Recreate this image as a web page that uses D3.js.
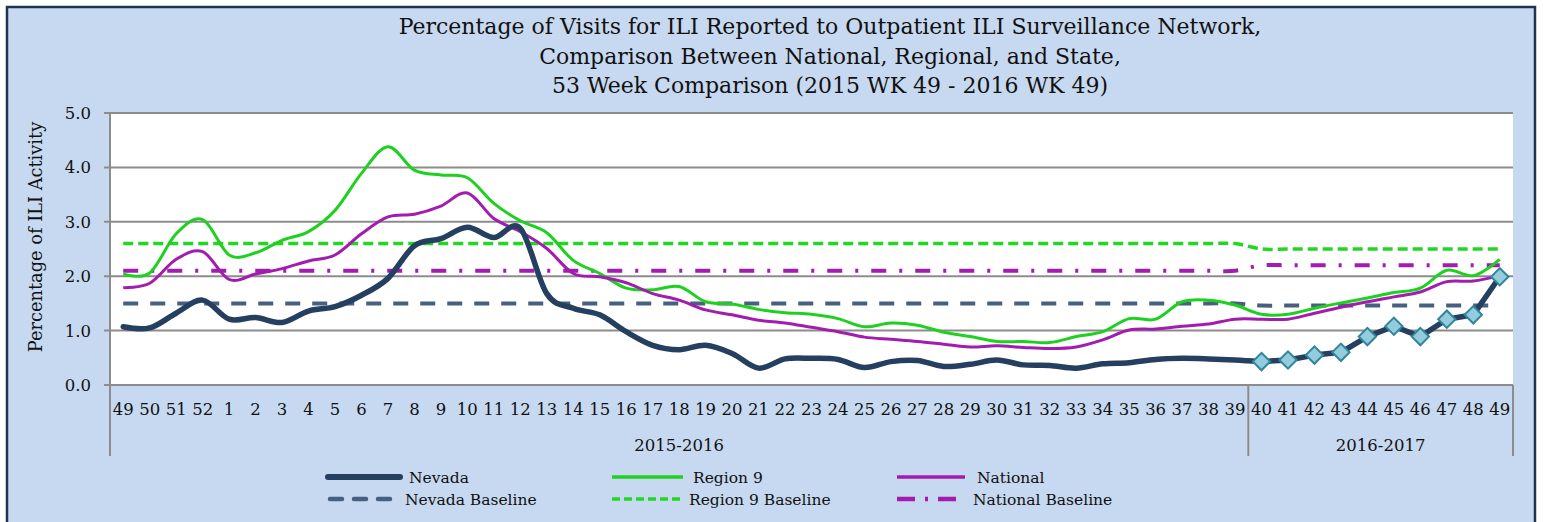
<!DOCTYPE html>
<html>
<head>
<meta charset="utf-8">
<script src="https://d3js.org/d3.v7.min.js"></script>
<style>
  body { margin: 0; background: #fff; }
  text { font-family: "DejaVu Serif", serif; fill: #111; }
</style>
</head>
<body>
<svg id="chart" width="1543" height="522"></svg>
<script>
// week labels, 2015 wk 49 .. 2016 wk 49
const weeks1516 = ["49","50","51","52","1","2","3","4","5","6","7","8","9","10","11","12","13","14","15","16","17","18","19","20","21","22","23","24","25","26","27","28","29","30","31","32","33","34","35","36","37","38","39"];
const weeks1617 = ["40","41","42","43","44","45","46","47","48","49"];
const seasons = ["2015-2016", "2016-2017"];

const nevada = [1.07,1.05,1.32,1.56,1.21,1.24,1.15,1.36,1.44,1.65,1.96,2.56,2.69,2.90,2.71,2.88,1.68,1.41,1.29,0.98,0.73,0.65,0.73,0.58,0.31,0.48,0.49,0.47,0.32,0.43,0.45,0.34,0.38,0.46,0.37,0.36,0.31,0.39,0.41,0.47,0.49,0.48,0.46,
                0.43,0.46,0.55,0.60,0.89,1.08,0.89,1.21,1.29,1.99];
const region9 = [2.04,2.06,2.78,3.04,2.39,2.43,2.66,2.82,3.21,3.89,4.38,3.95,3.86,3.81,3.34,3.02,2.80,2.29,2.05,1.78,1.75,1.81,1.53,1.49,1.39,1.33,1.30,1.22,1.07,1.14,1.10,0.97,0.89,0.80,0.80,0.78,0.89,0.98,1.22,1.21,1.53,1.56,1.47,
                 1.30,1.30,1.41,1.51,1.60,1.70,1.78,2.11,2.01,2.31];
const national = [1.79,1.87,2.31,2.45,1.94,2.04,2.14,2.28,2.39,2.78,3.09,3.14,3.29,3.53,3.06,2.82,2.51,2.05,1.99,1.88,1.68,1.56,1.38,1.29,1.19,1.14,1.06,0.98,0.88,0.84,0.80,0.75,0.70,0.72,0.69,0.67,0.70,0.83,1.01,1.03,1.08,1.12,1.21,
                  1.21,1.21,1.32,1.43,1.53,1.62,1.71,1.90,1.91,2.01];
const nevadaBase = [1.5,1.5,1.5,1.5,1.5,1.5,1.5,1.5,1.5,1.5,1.5,1.5,1.5,1.5,1.5,1.5,1.5,1.5,1.5,1.5,1.5,1.5,1.5,1.5,1.5,1.5,1.5,1.5,1.5,1.5,1.5,1.5,1.5,1.5,1.5,1.5,1.5,1.5,1.5,1.5,1.5,1.5,1.5,
                    1.46,1.46,1.46,1.46,1.46,1.46,1.46,1.46,1.46,1.46];
const region9Base = [2.6,2.6,2.6,2.6,2.6,2.6,2.6,2.6,2.6,2.6,2.6,2.6,2.6,2.6,2.6,2.6,2.6,2.6,2.6,2.6,2.6,2.6,2.6,2.6,2.6,2.6,2.6,2.6,2.6,2.6,2.6,2.6,2.6,2.6,2.6,2.6,2.6,2.6,2.6,2.6,2.6,2.6,2.6,
                     2.5,2.5,2.5,2.5,2.5,2.5,2.5,2.5,2.5,2.5];
const nationalBase = [2.1,2.1,2.1,2.1,2.1,2.1,2.1,2.1,2.1,2.1,2.1,2.1,2.1,2.1,2.1,2.1,2.1,2.1,2.1,2.1,2.1,2.1,2.1,2.1,2.1,2.1,2.1,2.1,2.1,2.1,2.1,2.1,2.1,2.1,2.1,2.1,2.1,2.1,2.1,2.1,2.1,2.1,2.1,
                      2.2,2.2,2.2,2.2,2.2,2.2,2.2,2.2,2.2,2.2];
const yTicks = [0, 1, 2, 3, 4, 5];

const svg = d3.select("#chart");

// chart area background + border
svg.append("rect")
    .attr("x", 7).attr("y", 7)
    .attr("width", 1528).attr("height", 530)
    .attr("fill", "#c6d9f0")
    .attr("stroke", "#1f3354")
    .attr("stroke-width", 2.5);

const plotLeft = 110, plotRight = 1513, plotTop = 113, plotBottom = 385;

const keys = weeks1516.map(w => "a" + w).concat(weeks1617.map(w => "b" + w));
const labels = weeks1516.concat(weeks1617);

const x = d3.scaleBand().domain(keys).range([plotLeft, plotRight]).padding(0);
const cx = i => x(keys[i]) + x.bandwidth() / 2;
const y = d3.scaleLinear().domain([0, 5]).range([plotBottom, plotTop]);

// plot area
svg.append("rect")
    .attr("x", plotLeft).attr("y", plotTop)
    .attr("width", plotRight - plotLeft).attr("height", plotBottom - plotTop)
    .attr("fill", "#fff");

// gridlines
svg.append("g").selectAll("line")
    .data(yTicks)
    .enter().append("line")
    .attr("x1", plotLeft - 6).attr("x2", plotRight)
    .attr("y1", d => y(d)).attr("y2", d => y(d))
    .attr("stroke", "#8c8c8c")
    .attr("stroke-width", 2);

svg.append("g").selectAll("text")
    .data(yTicks)
    .enter().append("text")
    .attr("x", 91).attr("y", d => y(d))
    .attr("dy", "0.36em")
    .attr("text-anchor", "end")
    .style("font-size", "16.5px")
    .text(d => d.toFixed(1));

// y axis line + category group lines
const seasonEdges = [plotLeft, x(keys[weeks1516.length]), plotRight];
svg.append("line")
    .attr("x1", plotLeft).attr("x2", plotLeft)
    .attr("y1", plotTop).attr("y2", plotBottom)
    .attr("stroke", "#8c8c8c").attr("stroke-width", 2);
svg.append("g").selectAll("line")
    .data(seasonEdges)
    .enter().append("line")
    .attr("x1", d => d).attr("x2", d => d)
    .attr("y1", plotBottom).attr("y2", 456)
    .attr("stroke", "#8c8c8c").attr("stroke-width", 2);

// week tick labels
svg.append("g").selectAll("text")
    .data(labels)
    .enter().append("text")
    .attr("x", (d, i) => cx(i))
    .attr("y", 409)
    .attr("dy", "0.36em")
    .attr("text-anchor", "middle")
    .style("font-size", "16.5px")
    .text(d => d);

// season labels
svg.append("g").selectAll("text")
    .data(seasons)
    .enter().append("text")
    .attr("x", (d, i) => (seasonEdges[i] + seasonEdges[i + 1]) / 2)
    .attr("y", 445)
    .attr("dy", "0.36em")
    .attr("text-anchor", "middle")
    .style("font-size", "16.5px")
    .text(d => d);

// y axis title
svg.append("text")
    .attr("transform", "translate(36,237) rotate(-90)")
    .attr("dy", "0.36em")
    .attr("text-anchor", "middle")
    .style("font-size", "17.8px")
    .text("Percentage of ILI Activity");

// title
const titleLines = [
    "Percentage of Visits for ILI Reported to Outpatient ILI Surveillance Network,",
    "Comparison Between National, Regional, and State,",
    "53 Week Comparison (2015 WK 49 - 2016 WK 49)"
];
svg.append("g").selectAll("text")
    .data(titleLines)
    .enter().append("text")
    .attr("x", 830)
    .attr("y", (d, i) => 34 + i * 29.5)
    .attr("text-anchor", "middle")
    .style("font-size", "22px")
    .text(d => d);

const smooth = d3.line()
    .x((d, i) => cx(i))
    .y(d => y(d))
    .curve(d3.curveCardinal.tension(0));

const series = [
    { name: "Region 9 Baseline", values: region9Base, color: "#22d722", width: 3.5, dash: "10,5" },
    { name: "National Baseline", values: nationalBase, color: "#a21caf", width: 4, dash: "15,13,3,13" },
    { name: "Nevada Baseline", values: nevadaBase, color: "#48607f", width: 4, dash: "15,12" },
    { name: "Region 9", values: region9, color: "#1fd11f", width: 3 },
    { name: "National", values: national, color: "#a21caf", width: 3 }
];

svg.append("g").selectAll("path")
    .data(series)
    .enter().append("path")
    .attr("d", d => smooth(d.values))
    .attr("fill", "none")
    .attr("stroke", d => d.color)
    .attr("stroke-width", d => d.width)
    .attr("stroke-dasharray", d => d.dash || null);

// Nevada: smooth for 2015-16, straight with markers for 2016-17
const n1 = weeks1516.length;
const nevadaColor = "#253f60";
svg.append("path")
    .attr("d", smooth(nevada.slice(0, n1 + 1)))
    .attr("fill", "none")
    .attr("stroke", nevadaColor)
    .attr("stroke-width", 5.5)
    .attr("stroke-linecap", "round");

const straight = d3.line()
    .x(d => cx(d.i))
    .y(d => y(d.v));
const nevadaLate = nevada.map((v, i) => ({ i: i, v: v })).slice(n1);
svg.append("path")
    .attr("d", straight(nevadaLate))
    .attr("fill", "none")
    .attr("stroke", nevadaColor)
    .attr("stroke-width", 5.5)
    .attr("stroke-linejoin", "round");

svg.append("g").selectAll("path")
    .data(nevadaLate)
    .enter().append("path")
    .attr("d", d3.symbol().type(d3.symbolSquare).size(150))
    .attr("transform", d => "translate(" + cx(d.i) + "," + y(d.v) + ") rotate(45)")
    .attr("fill", "#93cddd")
    .attr("stroke", "#31859c")
    .attr("stroke-width", 2);

// legend
const legend = [
    { name: "Nevada", color: nevadaColor, width: 6, x1: 328, x2: 400, tx: 409, ty: 477, cap: "round" },
    { name: "Region 9", color: "#1fd11f", width: 3.5, x1: 612, x2: 683, tx: 693, ty: 477 },
    { name: "National", color: "#a21caf", width: 3.5, x1: 897, x2: 965, tx: 977, ty: 477 },
    { name: "Nevada Baseline", color: "#48607f", width: 4.5, x1: 330, x2: 398, tx: 405, ty: 499, dash: "12,12", cap: "round" },
    { name: "Region 9 Baseline", color: "#22d722", width: 3.5, x1: 612, x2: 683, tx: 689, ty: 499, dash: "8,4" },
    { name: "National Baseline", color: "#a21caf", width: 4.5, x1: 897, x2: 960, tx: 973, ty: 499, dash: "18,10,3,10" }
];
const lg = svg.append("g").selectAll("g")
    .data(legend)
    .enter().append("g");
lg.append("line")
    .attr("x1", d => d.x1).attr("x2", d => d.x2)
    .attr("y1", d => d.ty).attr("y2", d => d.ty)
    .attr("stroke", d => d.color)
    .attr("stroke-width", d => d.width)
    .attr("stroke-linecap", d => d.cap || "butt")
    .attr("stroke-dasharray", d => d.dash || null);
lg.append("text")
    .attr("x", d => d.tx).attr("y", d => d.ty)
    .attr("dy", "0.36em")
    .style("font-size", "15.5px")
    .text(d => d.name);
</script>
</body>
</html>
